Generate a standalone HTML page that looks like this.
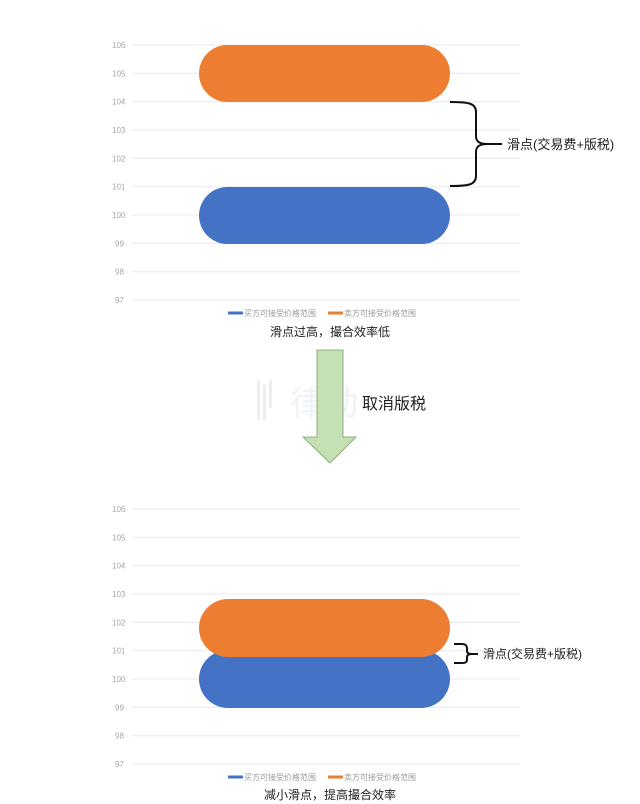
<!DOCTYPE html>
<html><head><meta charset="utf-8"><style>
html,body{margin:0;padding:0;background:#fff;}
svg{display:block;}
text{font-family:"Liberation Sans","Noto Sans CJK SC",sans-serif;}
.ax{font-size:8px;fill:#a6a6a6;}
.lg{font-size:8px;fill:#9a9a9a;font-family:"Liberation Sans","Noto Sans CJK SC",sans-serif;}
.gl{stroke:#e8e8e8;stroke-width:1;}
</style></head><body>
<svg width="640" height="804" viewBox="0 0 640 804" xmlns="http://www.w3.org/2000/svg">
<!-- top chart grid -->
<g>
<line class="gl" x1="132" y1="45" x2="520" y2="45"/><text class="ax" x="112" y="48">106</text>
<line class="gl" x1="132" y1="73.3" x2="520" y2="73.3"/><text class="ax" x="112" y="76.3">105</text>
<line class="gl" x1="132" y1="101.7" x2="520" y2="101.7"/><text class="ax" x="112" y="104.7">104</text>
<line class="gl" x1="132" y1="130" x2="520" y2="130"/><text class="ax" x="112" y="133">103</text>
<line class="gl" x1="132" y1="158.3" x2="520" y2="158.3"/><text class="ax" x="112" y="161.3">102</text>
<line class="gl" x1="132" y1="186.7" x2="520" y2="186.7"/><text class="ax" x="112" y="189.7">101</text>
<line class="gl" x1="132" y1="215" x2="520" y2="215"/><text class="ax" x="112" y="218">100</text>
<line class="gl" x1="132" y1="243.3" x2="520" y2="243.3"/><text class="ax" x="115" y="246.3">99</text>
<line class="gl" x1="132" y1="271.7" x2="520" y2="271.7"/><text class="ax" x="115" y="274.7">98</text>
<line class="gl" x1="132" y1="300" x2="520" y2="300"/><text class="ax" x="115" y="303">97</text>
</g>
<rect x="199" y="45" width="251" height="57" rx="28.5" fill="#ed7d31"/>
<rect x="199" y="187" width="251" height="57" rx="28.5" fill="#4472c4"/>
<path d="M450 102 C468 102 476 103 476 112 L476 136 C476 142 480 144 488 144 C480 144 476 146 476 152 L476 176 C476 185 468 186 450 186" fill="none" stroke="#111" stroke-width="2"/>
<line x1="486" y1="144" x2="502" y2="144" stroke="#111" stroke-width="2"/>
<text x="507" y="149" font-size="13" fill="#222">滑点(交易费+版税)</text>
<line x1="228" y1="313" x2="243" y2="313" stroke="#4472c4" stroke-width="3"/>
<text class="lg" x="244" y="316">买方可接受价格范围</text>
<line x1="328" y1="313" x2="343" y2="313" stroke="#ed7d31" stroke-width="3"/>
<text class="lg" x="344" y="316">卖方可接受价格范围</text>
<text x="330" y="336" font-size="12" fill="#222" text-anchor="middle">滑点过高，撮合效率低</text>

<!-- watermark -->
<g fill="#e4e9f2" opacity="0.8">
<rect x="257" y="380" width="3" height="40"/><rect x="263" y="385" width="3" height="35"/><rect x="269" y="380" width="3" height="28"/>
<text x="290" y="415" font-size="34" fill="#eceff4">律动</text>
</g>
<!-- arrow -->
<path d="M317 350 L343 350 L343 437 L356 437 L330 463 L303 437 L317 437 Z" fill="#c5e0b4" stroke="#8fb07a" stroke-width="1"/>
<text x="362" y="409" font-size="16" fill="#222">取消版税</text>

<!-- bottom chart grid -->
<g>
<line class="gl" x1="132" y1="509" x2="520" y2="509"/><text class="ax" x="112" y="512">106</text>
<line class="gl" x1="132" y1="537.3" x2="520" y2="537.3"/><text class="ax" x="112" y="540.3">105</text>
<line class="gl" x1="132" y1="565.7" x2="520" y2="565.7"/><text class="ax" x="112" y="568.7">104</text>
<line class="gl" x1="132" y1="594" x2="520" y2="594"/><text class="ax" x="112" y="597">103</text>
<line class="gl" x1="132" y1="622.3" x2="520" y2="622.3"/><text class="ax" x="112" y="625.3">102</text>
<line class="gl" x1="132" y1="650.7" x2="520" y2="650.7"/><text class="ax" x="112" y="653.7">101</text>
<line class="gl" x1="132" y1="679" x2="520" y2="679"/><text class="ax" x="112" y="682">100</text>
<line class="gl" x1="132" y1="707.3" x2="520" y2="707.3"/><text class="ax" x="115" y="710.3">99</text>
<line class="gl" x1="132" y1="735.7" x2="520" y2="735.7"/><text class="ax" x="115" y="738.7">98</text>
<line class="gl" x1="132" y1="764" x2="520" y2="764"/><text class="ax" x="115" y="767">97</text>
</g>
<rect x="199" y="650" width="251" height="58" rx="29" fill="#4472c4"/>
<rect x="199" y="599" width="251" height="58" rx="29" fill="#ed7d31"/>
<path d="M454 644 L462 644 C466 644 467 646 467 649 L467 651 C467 653 469 654 472 654 C469 654 467 655 467 657 L467 659 C467 662 466 663 462 663 L454 663" fill="none" stroke="#111" stroke-width="2"/>
<line x1="470" y1="654" x2="478" y2="654" stroke="#111" stroke-width="2"/>
<text x="483" y="658" font-size="12" fill="#222">滑点(交易费+版税)</text>
<line x1="228" y1="777" x2="243" y2="777" stroke="#4472c4" stroke-width="3"/>
<text class="lg" x="244" y="780">买方可接受价格范围</text>
<line x1="328" y1="777" x2="343" y2="777" stroke="#ed7d31" stroke-width="3"/>
<text class="lg" x="344" y="780">卖方可接受价格范围</text>
<text x="330" y="799" font-size="12" fill="#222" text-anchor="middle">减小滑点，提高撮合效率</text>
</svg>
</body></html>
